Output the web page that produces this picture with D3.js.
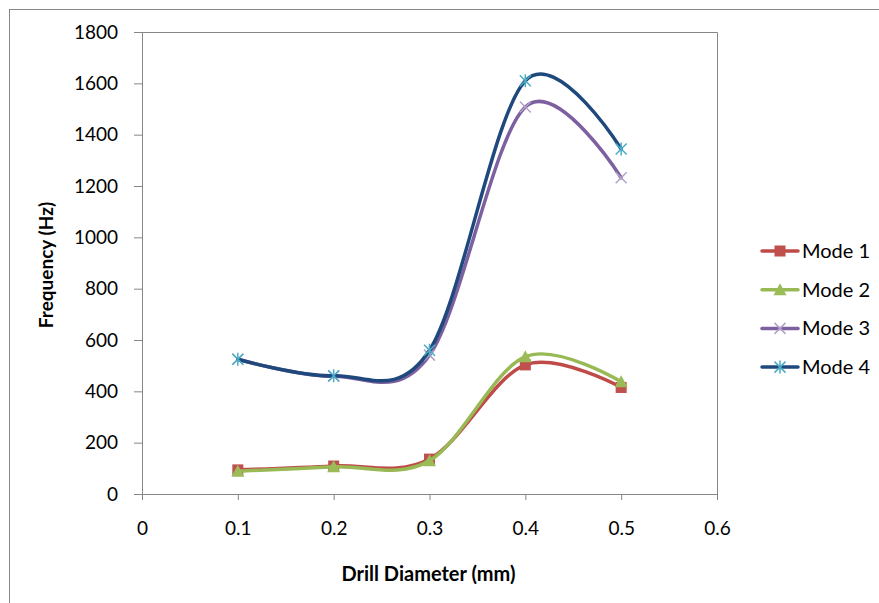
<!DOCTYPE html>
<html>
<head>
<meta charset="utf-8">
<script src="https://cdn.jsdelivr.net/npm/d3@7"></script>
<style>
  body { margin: 0; background: #fff; }
  text { font-family: Lato, "Open Sans", sans-serif; fill: #000; }
</style>
</head>
<body>
<div id="chart"></div>
<script>
// data
const diameters = [0.1, 0.2, 0.3, 0.4, 0.5];
const mode1 = [94, 109, 136, 503, 415];
const mode2 = [89, 106, 130, 535, 437];
const mode3 = [525, 459, 541, 1508, 1232];
const mode4 = [525, 461, 560, 1610, 1344];
const seriesNames = ["Mode 1", "Mode 2", "Mode 3", "Mode 4"];
const xTicks = [0, 0.1, 0.2, 0.3, 0.4, 0.5, 0.6];
const yTicks = [0, 200, 400, 600, 800, 1000, 1200, 1400, 1600, 1800];

const W = 879, H = 603;
const margin = {top: 32, right: 162, bottom: 109, left: 142},
    width = W - margin.left - margin.right,
    height = H - margin.top - margin.bottom;

const series = [
  {name: seriesNames[0], values: mode1, line: "#BE4B48", mark: "#C0504D", shape: "square"},
  {name: seriesNames[1], values: mode2, line: "#98B954", mark: "#9BBB59", shape: "triangle"},
  {name: seriesNames[2], values: mode3, line: "#7D60A0", mark: "#B3A2C7", shape: "x"},
  {name: seriesNames[3], values: mode4, line: "#1F497D", mark: "#4BACC6", shape: "star"}
];

const svg = d3.select("#chart").append("svg")
    .attr("width", W).attr("height", H);

// outer chart border
svg.append("rect")
    .attr("x", 9.5).attr("y", 9.5)
    .attr("width", W + 20).attr("height", H + 20)
    .attr("fill", "none").attr("stroke", "#868686");

const g = svg.append("g")
    .attr("transform", "translate(" + margin.left + "," + margin.top + ")");

const x = d3.scaleLinear().domain([0, 0.6]).range([0, width]);
const y = d3.scaleLinear().domain([0, 1800]).range([height, 0]);

// plot area border (top + right)
g.append("path")
    .attr("d", "M0,0.5H" + (width + 0.5) + "V" + height)
    .attr("fill", "none").attr("stroke", "#868686");

// axes
const xAxis = g.append("g")
    .attr("transform", "translate(0," + height + ")")
    .call(d3.axisBottom(x).tickValues(xTicks).tickFormat(d3.format("")).tickSize(6).tickSizeOuter(0).tickPadding(22));
const yAxis = g.append("g")
    .call(d3.axisLeft(y).tickValues(yTicks).tickFormat(d3.format("d")).tickSize(8).tickSizeOuter(0).tickPadding(16));
[xAxis, yAxis].forEach(function(a) {
  a.select(".domain").attr("stroke", "#868686");
  a.selectAll(".tick line").attr("stroke", "#868686");
  a.selectAll(".tick text").style("font-size", "19px").attr("fill", "#000");
});

// axis titles
svg.append("text")
    .attr("x", margin.left + x(0.3) - 1).attr("y", 581)
    .attr("text-anchor", "middle")
    .style("font-size", "20px").style("font-weight", "bold")
    .text("Drill Diameter (mm)");
svg.append("text")
    .attr("transform", "translate(53," + (margin.top + height / 2 + 2) + ") rotate(-90)")
    .attr("text-anchor", "middle")
    .style("font-size", "19px").style("font-weight", "bold")
    .text("Frequency (Hz)");

const line = d3.line()
    .x(function(d) { return x(d[0]); })
    .y(function(d) { return y(d[1]); })
    .curve(d3.curveCardinal.tension(0));

function drawMarker(sel, s, size) {
  const r = size / 2;
  if (s.shape === "square") {
    sel.append("rect").attr("x", -r).attr("y", -r).attr("width", size).attr("height", size)
        .attr("fill", s.mark);
  } else if (s.shape === "triangle") {
    sel.append("path").attr("d", "M0," + (-r - 1) + "L" + (r + 1) + "," + (r) + "L" + (-r - 1) + "," + r + "Z")
        .attr("fill", s.mark);
  } else if (s.shape === "x") {
    sel.append("path").attr("d", "M" + -r + "," + -r + "L" + r + "," + r + "M" + -r + "," + r + "L" + r + "," + -r)
        .attr("stroke", s.mark).attr("stroke-width", 1.5);
  } else {
    sel.append("path").attr("d", "M" + -r + "," + -r + "L" + r + "," + r + "M" + -r + "," + r + "L" + r + "," + -r + "M0," + (-r - 1) + "V" + (r + 1))
        .attr("stroke", s.mark).attr("stroke-width", 1.5);
  }
}

series.forEach(function(s) {
  const pts = diameters.map(function(d, i) { return [d, s.values[i]]; });
  g.append("path")
      .attr("d", line(pts))
      .attr("fill", "none")
      .attr("stroke", s.line)
      .attr("stroke-width", 3.5)
      .attr("stroke-linecap", "round");
  g.selectAll(null)
      .data(pts)
      .join("g")
      .attr("transform", function(d) { return "translate(" + x(d[0]) + "," + y(d[1]) + ")"; })
      .each(function() { drawMarker(d3.select(this), s, 11); });
});

// legend
const legend = svg.append("g").attr("transform", "translate(762,251)");
series.forEach(function(s, i) {
  const row = legend.append("g").attr("transform", "translate(0," + (i * 38.7) + ")");
  row.append("line").attr("x1", 0).attr("x2", 36).attr("y1", 0).attr("y2", 0)
      .attr("stroke", s.line).attr("stroke-width", 3.5).attr("stroke-linecap", "round");
  drawMarker(row.append("g").attr("transform", "translate(18,0)"), s, 11);
  row.append("text").attr("x", 40).attr("y", 0).attr("dy", "0.35em")
      .style("font-size", "20px").text(s.name);
});
</script>
</body>
</html>
